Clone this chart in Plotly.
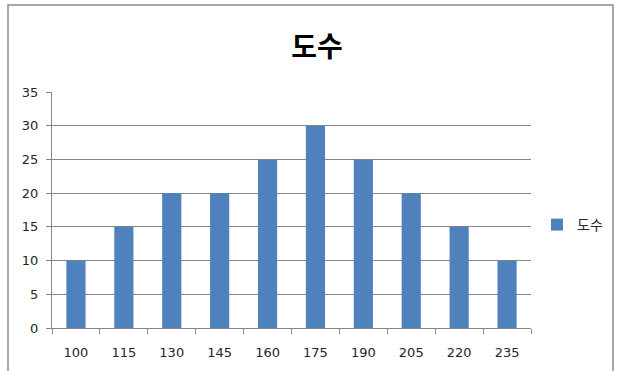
import plotly.graph_objects as go

# Class marks and their frequencies
categories = ["100", "115", "130", "145", "160", "175", "190", "205", "220", "235"]
frequencies = [10, 15, 20, 20, 25, 30, 25, 20, 15, 10]
series_name = "도수"
y_ticks = [0, 5, 10, 15, 20, 25, 30, 35]

W, H = 621, 371
L, R, T, B = 52, 90, 92, 43
pw, ph = W - L - R, H - T - B

bar_color = "#4F81BD"
axis_gray = "#868686"
font_kr = "Malgun Gothic, 'Noto Sans CJK KR', sans-serif"
font_num = "'DejaVu Sans', Verdana, sans-serif"
text_color = "#262626"

fig = go.Figure()
fig.add_trace(go.Bar(
    x=categories,
    y=frequencies,
    name=series_name,
    marker=dict(color=bar_color, line=dict(width=0)),
    width=0.4,
    showlegend=True,
))

# Outer chart frame (open at the bottom edge of the page)
fig.add_shape(
    type="rect", xref="paper", yref="paper",
    x0=(8 - L) / pw, x1=(613 - L) / pw,
    y0=-(B + 10) / ph, y1=(H - B - 5) / ph,
    line=dict(color="#8C8C8C", width=1.5),
    fillcolor="rgba(0,0,0,0)", layer="below",
)

fig.update_layout(
    width=W, height=H,
    margin=dict(l=L, r=R, t=T, b=B, autoexpand=False),
    paper_bgcolor="white", plot_bgcolor="white",
    font=dict(family=font_kr, size=13, color=text_color),
    title=dict(
        text="<b>도수</b>", x=317 / W, xanchor="center",
        y=1 - 47 / H, yanchor="middle", yref="container",
        font=dict(family=font_kr, size=28, color="#000000"),
    ),
    legend=dict(
        x=(537 - L) / pw, y=(H - B - 225) / ph, xanchor="left", yanchor="middle",
        font=dict(family=font_kr, size=14, color=text_color),
        itemwidth=30, bgcolor="rgba(0,0,0,0)",
    ),
    bargap=0.6,
    xaxis=dict(
        type="category", showline=True, linecolor=axis_gray, linewidth=1,
        ticks="outside", tickson="boundaries", ticklen=5, tickcolor=axis_gray,
        showgrid=False, tickfont=dict(family=font_num, size=13, color=text_color),
        ticklabelstandoff=12,
    ),
    yaxis=dict(
        range=[0, 35], tickvals=y_ticks, showline=True, linecolor=axis_gray,
        linewidth=1, ticks="outside", ticklen=5, tickcolor=axis_gray,
        showgrid=True, gridcolor=axis_gray, gridwidth=1, zeroline=False,
        tickfont=dict(family=font_num, size=13, color=text_color),
        ticklabelstandoff=5,
    ),
)

fig.write_html("out.html")
